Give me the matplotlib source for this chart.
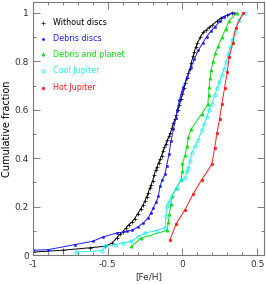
import matplotlib
matplotlib.use("Agg")
import matplotlib.pyplot as plt
from matplotlib.ticker import MultipleLocator

# Cumulative fraction vs [Fe/H] for each sample
without_x = [-1.00, -0.80, -0.62, -0.52, -0.47, -0.44, -0.42, -0.40, -0.38, -0.36,
             -0.34, -0.32, -0.30, -0.28, -0.265, -0.25, -0.24, -0.23, -0.22, -0.21,
             -0.20, -0.19, -0.18, -0.17, -0.16, -0.15, -0.14, -0.13, -0.12, -0.11,
             -0.10, -0.09, -0.08, -0.07, -0.06, -0.05, -0.04, -0.03, -0.02, -0.01,
             0.00, 0.01, 0.02, 0.03, 0.04, 0.05, 0.06, 0.07, 0.08, 0.09,
             0.10, 0.12, 0.14, 0.16, 0.18, 0.20, 0.23, 0.26, 0.30, 0.33]
without_y = [0.012, 0.02, 0.03, 0.036, 0.05, 0.07, 0.085, 0.095, 0.11, 0.125,
             0.135, 0.15, 0.17, 0.19, 0.205, 0.225, 0.24, 0.255, 0.275, 0.29,
             0.305, 0.33, 0.35, 0.365, 0.38, 0.395, 0.41, 0.43, 0.445, 0.46,
             0.475, 0.49, 0.505, 0.525, 0.545, 0.56, 0.58, 0.60, 0.62, 0.645,
             0.665, 0.69, 0.71, 0.73, 0.75, 0.77, 0.795, 0.82, 0.84, 0.86,
             0.875, 0.90, 0.92, 0.93, 0.94, 0.95, 0.965, 0.98, 0.99, 1.0]

debris_x = [-1.0, -0.9, -0.72, -0.6, -0.53, -0.44, -0.37, -0.34, -0.30, -0.262,
            -0.229, -0.21, -0.195, -0.175, -0.161, -0.15, -0.135, -0.117, -0.106, -0.09,
            -0.077, -0.06, -0.045, -0.035, -0.02, -0.005, 0.007, 0.03, 0.058, 0.08,
            0.107, 0.135, 0.163, 0.19, 0.219, 0.25, 0.275, 0.343]
debris_y = [0.02, 0.022, 0.043, 0.057, 0.075, 0.091, 0.098, 0.102, 0.115, 0.133,
            0.154, 0.175, 0.195, 0.22, 0.243, 0.285, 0.31, 0.333, 0.368, 0.416,
            0.47, 0.52, 0.565, 0.60, 0.64, 0.675, 0.694, 0.735, 0.777, 0.81,
            0.846, 0.875, 0.902, 0.925, 0.943, 0.965, 0.985, 1.0]

planet_x = [-0.341, -0.274, -0.101, -0.095, -0.087, -0.077, -0.072, -0.04, -0.009, 0.0,
            0.0, 0.018, 0.03, 0.04, 0.058, 0.13, 0.17, 0.175, 0.179, 0.185,
            0.192, 0.205, 0.219, 0.24, 0.264, 0.29, 0.313, 0.365]
planet_y = [0.036, 0.07, 0.102, 0.135, 0.171, 0.209, 0.243, 0.278, 0.312, 0.345,
            0.379, 0.412, 0.45, 0.487, 0.52, 0.584, 0.622, 0.66, 0.694, 0.73,
            0.763, 0.80, 0.833, 0.865, 0.899, 0.935, 0.968, 1.0]

cool_x = [-0.709, -0.54, -0.518, -0.45, -0.395, -0.341, -0.30, -0.252, -0.18, -0.117,
          -0.11, -0.106, -0.09, -0.072, -0.038, -0.009, 0.018, 0.03, 0.04, 0.051,
          0.063, 0.085, 0.103, 0.13, 0.145, 0.163, 0.18, 0.197, 0.215, 0.231,
          0.248, 0.264, 0.28, 0.293, 0.307, 0.32, 0.335, 0.35, 0.376, 0.42]
cool_y = [0.012, 0.018, 0.036, 0.043, 0.05, 0.057, 0.075, 0.091, 0.10, 0.112,
          0.16, 0.202, 0.22, 0.243, 0.278, 0.31, 0.32, 0.345, 0.361, 0.389,
          0.423, 0.451, 0.473, 0.515, 0.54, 0.57, 0.60, 0.625, 0.66, 0.688,
          0.715, 0.743, 0.77, 0.798, 0.83, 0.86, 0.89, 0.922, 0.971, 1.0]

hot_x = [-0.083, -0.043, 0.018, 0.07, 0.128, 0.197, 0.215, 0.231, 0.249, 0.264,
         0.282, 0.30, 0.313, 0.338, 0.356, 0.405]
hot_y = [0.063, 0.128, 0.188, 0.25, 0.31, 0.375, 0.44, 0.503, 0.563, 0.625,
         0.69, 0.756, 0.819, 0.877, 0.936, 1.0]

series = [
    ("Without discs", without_x, without_y, "black", dict(marker="+", ms=3, mew=0.5)),
    ("Debris discs", debris_x, debris_y, "#1a1aff", dict(marker="o", ms=1.6, mew=0.4)),
    ("Debris and planet", planet_x, planet_y, "#11dd11", dict(marker="^", ms=2.3, mew=0.4)),
    ("Cool Jupiter", cool_x, cool_y, "#22eeee", dict(marker="o", ms=2.3, mew=0.6, mfc="none")),
    ("Hot Jupiter", hot_x, hot_y, "#ff1a1a", dict(marker="o", ms=1.9, mew=0.4)),
]

fig = plt.figure(figsize=(2.66, 2.84), dpi=100)
ax = fig.add_axes([0.124, 0.102, 0.868, 0.891])

for name, xs, ys, col, mk in series:
    ax.plot(xs, ys, color=col, lw=0.7, **mk)

# legend drawn by hand: marker + coloured text
leg_y = [0.917, 0.855, 0.793, 0.728, 0.661]
for (name, xs, ys, col, mk), yy in zip(series, leg_y):
    ax.plot([0.043], [yy], transform=ax.transAxes, color=col, ls="none", **mk)
    ax.text(0.087, yy, name, transform=ax.transAxes, color=col,
            fontsize=5.8, va="center", ha="left")

ax.set_xlim(-1.0, 0.545)
ax.set_ylim(0, 1.045)
ax.xaxis.set_major_locator(MultipleLocator(0.5))
ax.xaxis.set_minor_locator(MultipleLocator(0.1))
ax.yaxis.set_major_locator(MultipleLocator(0.2))
ax.yaxis.set_minor_locator(MultipleLocator(0.1))
ax.tick_params(which="both", direction="in", top=True, right=True,
               labelsize=6.5, labelcolor="#333333", color="#666666")
ax.tick_params(which="major", length=5, width=0.6)
ax.tick_params(which="minor", length=2.5, width=0.6)
ax.tick_params(axis="x", which="major", pad=3.5)
ax.tick_params(axis="y", which="major", pad=3)
ax.set_xticks([-1, -0.5, 0, 0.5])
ax.set_xticklabels(["-1", "-0.5", "0", "0.5"])
ax.set_yticks([0, 0.2, 0.4, 0.6, 0.8, 1])
ax.set_yticklabels(["0", "0.2", "0.4", "0.6", "0.8", "1"])
for sp in ax.spines.values():
    sp.set_color("#777777")
    sp.set_linewidth(0.8)

ax.set_xlabel("[Fe/H]", fontsize=6.5, color="#333333", labelpad=2)
ax.set_ylabel("Cumulative fraction", fontsize=7, labelpad=2)

fig.savefig("out.png", dpi=100)
